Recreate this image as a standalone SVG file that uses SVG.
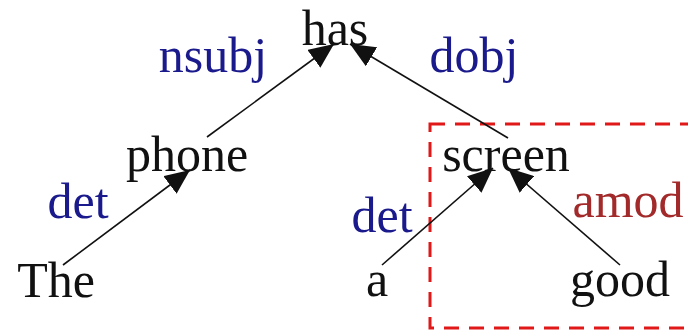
<svg xmlns="http://www.w3.org/2000/svg" width="688" height="331" viewBox="0 0 688 331">
<style>
.w{font-family:"Liberation Serif","DejaVu Serif",serif;font-size:50px;fill:#111}
.l{font-family:"Liberation Serif","DejaVu Serif",serif;font-size:50px;fill:#1a1a8c}
.r{fill:#a32a2a}
.e{stroke:#111;stroke-width:1.6;fill:none;marker-end:url(#ah)}
</style>
<defs>
<marker id="ah" markerUnits="userSpaceOnUse" markerWidth="26" markerHeight="22" viewBox="0 0 26 22" refX="25" refY="11" orient="auto">
<path d="M0,0 L25,11 L0,22 Z" fill="#111"/>
</marker>
</defs>
<rect x="430" y="124" width="300" height="204" fill="none" stroke="#e01818" stroke-width="3" stroke-dasharray="15,10"/>
<g id="connectors">
<line class="e" x1="63" y1="265" x2="190" y2="170"/>
<line class="e" x1="207" y1="137" x2="334" y2="44"/>
<line class="e" x1="508" y1="138" x2="350" y2="44"/>
<line class="e" x1="382" y1="265" x2="493" y2="168"/>
<line class="e" x1="620" y1="265" x2="508" y2="168"/>
</g>
<g id="has"><text class="w" x="335" y="45" text-anchor="middle">has</text></g>
<g id="phone"><text class="w" x="187" y="171" text-anchor="middle">phone</text></g>
<g id="screen"><text class="w" x="506" y="171" text-anchor="middle">screen</text></g>
<g id="The"><text class="w" x="56" y="297" text-anchor="middle">The</text></g>
<g id="a"><text class="w" x="377" y="296" text-anchor="middle">a</text></g>
<g id="good"><text class="w" x="620" y="296" text-anchor="middle">good</text></g>
<g id="labels">
<text class="l" x="213" y="72" text-anchor="middle">nsubj</text>
<text class="l" x="474" y="72" text-anchor="middle">dobj</text>
<text class="l" x="78" y="218" text-anchor="middle">det</text>
<text class="l" x="382" y="232" text-anchor="middle">det</text>
<text class="l r" x="628" y="217" text-anchor="middle">amod</text>
</g>
</svg>
